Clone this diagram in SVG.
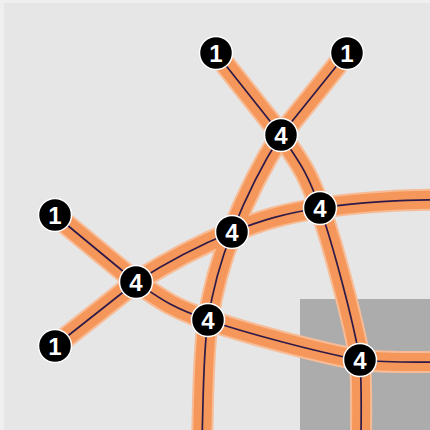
<svg xmlns="http://www.w3.org/2000/svg" width="430" height="430" viewBox="0 0 430 430">
<style>
.halo{fill:none;stroke:#f7bc96;stroke-width:22;stroke-linecap:butt}
.band{fill:none;stroke:#f5975a;stroke-width:18}
.core{fill:none;stroke:#2e1a48;stroke-width:1.7}
.node circle{fill:#000;stroke:#fff;stroke-width:1.5}
.node text{fill:#fff;font-family:"Liberation Sans",Arial,sans-serif;font-weight:bold;font-size:24px;text-anchor:middle}
</style>
<defs>
<path id="pA" d="M216,53 L281,135 C298.3,160.8 306.8,170.5 320,208 C333.2,245.5 353.2,321.3 360,360 C362,390 361,420 361,440"/>
<path id="pB" d="M347,53 L281,135 C261.8,164.8 244.2,201.2 232,232 C219.8,262.8 213,287 208,320 C203,353 203.3,403.3 202,440"/>
<path id="pC" d="M55,215 L136,282 C161.5,299.5 170.7,307 208,320 C245.3,333 321.3,353 360,360 C390,363 420,362 440,362"/>
<path id="pD" d="M55,346 L136,282 C165.5,263 201.3,244.3 232,232 C262.7,219.7 285.3,213.3 320,208 C354.7,202.7 410,199 440,200"/>
</defs>
<rect x="0" y="0" width="430" height="430" fill="#efefef"/>
<rect x="4" y="3" width="426" height="427" fill="#e6e6e6"/>
<rect x="300" y="299" width="130" height="131" fill="#acacac"/>
<g id="connectors">
<use href="#pA" class="halo"/><use href="#pB" class="halo"/><use href="#pC" class="halo"/><use href="#pD" class="halo"/>
<use href="#pA" class="band"/><use href="#pB" class="band"/><use href="#pC" class="band"/><use href="#pD" class="band"/>
<use href="#pA" class="core"/><use href="#pB" class="core"/><use href="#pC" class="core"/><use href="#pD" class="core"/>
</g>
<g id="n1" class="node"><circle cx="216" cy="53" r="16.5"/><text x="216" y="62">1</text></g>
<g id="n2" class="node"><circle cx="347" cy="53" r="16.5"/><text x="347" y="62">1</text></g>
<g id="n3" class="node"><circle cx="281" cy="135" r="16.5"/><text x="281" y="144">4</text></g>
<g id="n4" class="node"><circle cx="320" cy="208" r="16.5"/><text x="320" y="217">4</text></g>
<g id="n5" class="node"><circle cx="232" cy="232" r="16.5"/><text x="232" y="241">4</text></g>
<g id="n6" class="node"><circle cx="55" cy="215" r="16.5"/><text x="55" y="224">1</text></g>
<g id="n7" class="node"><circle cx="136" cy="282" r="16.5"/><text x="136" y="291">4</text></g>
<g id="n8" class="node"><circle cx="208" cy="320" r="16.5"/><text x="208" y="329">4</text></g>
<g id="n9" class="node"><circle cx="55" cy="346" r="16.5"/><text x="55" y="355">1</text></g>
<g id="n10" class="node"><circle cx="360" cy="360" r="16.5"/><text x="360" y="369">4</text></g>
</svg>
